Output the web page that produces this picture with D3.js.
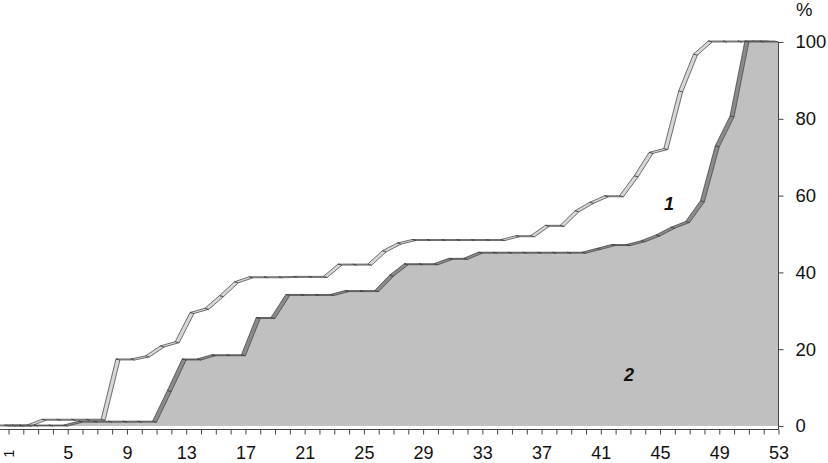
<!DOCTYPE html>
<html>
<head>
<meta charset="utf-8">
<script src="https://cdn.jsdelivr.net/npm/d3@7"></script>
<style>
    body{margin:0;background:#fff;}
    text{font-family:"Liberation Sans",Arial,sans-serif;}
</style>
</head>
<body>
<div id="chart"></div>
<script>
// categories 1..53 on the x axis
const categories = [1,2,3,4,5,6,7,8,9,10,11,12,13,14,15,16,17,18,19,20,21,22,23,24,25,26,27,
    28,29,30,31,32,33,34,35,36,37,38,39,40,41,42,43,44,45,46,47,48,49,50,51,52,53];
const tickLabels = [1,5,9,13,17,21,25,29,33,37,41,45,49,53];
const yTicks = [0,20,40,60,80,100];

// series 1 (back row, upper curve), %
const series1 = [0,0,0,1.5,1.5,1.5,1.5,1.5,17.2,17.2,18,20.6,21.7,29.3,30.4,33.7,37.3,38.6,38.6,38.6,
    38.7,38.7,38.7,41.9,41.9,41.9,45.4,47.4,48.3,48.3,48.3,48.3,48.3,48.3,48.3,
    49.3,49.3,52,52,55.8,58,59.7,59.7,64.9,71,72,87,96.6,100,100,100,100,100];
// series 2 (front row, grey area), %
const series2 = [0,0,0,0,0,1,1,1,1,1,1,9,17.2,17.2,18.3,18.3,18.3,28,28,34,34,34,34,35,35,35,
    39,42,42,42,43.4,43.4,45,45,45,45,45,45,45,45,
    46,47,47,48,49.5,51.5,53,58.4,72.7,80.5,100,100,100];

const seriesLabels = [
    {text:"1", cat:45.6, value:58},
    {text:"2", cat:42.9, value:13.3}
];

const width = 828, height = 463;
const ribbon = {dx:-4, dy:-1};     // top face offset of the 3D area
const rowDepth = -7;               // back row shift

const svg = d3.select("#chart").append("svg")
    .attr("width",width)
    .attr("height",height)
;

const xScale = d3.scalePoint().domain(categories).range([8.5,778.5]);
const yScale = d3.scaleLinear().domain([0,100]).range([426,42]);
const xCat = d3.scaleLinear().domain([1,53]).range([8.5,778.5]);

function drawSeries(values, shift, faceFill, ribbonFill){
    const g = svg.append("g")
        .attr("transform","translate(" + shift + ",0)")
    ;
    const pts = values.map((v,i)=>[xScale(categories[i]), yScale(v)]);

    // front face
    const area = d3.area()
        .x(d=>d[0])
        .y0(yScale(0))
        .y1(d=>d[1])
    ;
    g.append("path")
        .attr("d",area(pts))
        .attr("fill",faceFill)
        .attr("stroke","none")
    ;

    // top face, one quad per segment
    const segs = d3.pairs(pts);
    g.selectAll(".ribbonSeg")
        .data(segs)
        .join("path")
        .attr("class","ribbonSeg")
        .attr("d",([a,b])=>{
            return "M" + a[0] + "," + a[1]
                + "L" + b[0] + "," + b[1]
                + "L" + (b[0]+ribbon.dx) + "," + (b[1]+ribbon.dy)
                + "L" + (a[0]+ribbon.dx) + "," + (a[1]+ribbon.dy) + "Z";
        })
        .attr("fill",ribbonFill)
        .attr("stroke","#3a3a3a")
        .attr("stroke-width",0.7)
        .attr("stroke-linejoin","round")
    ;
}

drawSeries(series1, rowDepth, "#ffffff", "#d6d6d6");
drawSeries(series2, 0, "#c0c0c0", "#8a8a8a");

// x axis
const xAxisG = svg.append("g")
    .attr("class","xAxisG")
    .attr("transform","translate(0,429.5)")
    .call(d3.axisBottom(xScale)
        .tickSize(5)
        .tickSizeOuter(0)
        .tickPadding(12)
        .tickFormat(d=>tickLabels.includes(d) ? d : ""))
;
xAxisG.select(".domain").attr("stroke","#444").attr("d","M0,0H778.5");
xAxisG.selectAll(".tick line").attr("stroke","#444");
xAxisG.selectAll("text")
    .attr("font-size",18)
    .attr("fill","#111")
;
// first label is drawn turned in the original
xAxisG.selectAll(".tick").filter(d=>d===1).select("text")
    .attr("transform","rotate(-90)")
    .attr("dy","0.35em")
    .attr("text-anchor","middle")
    .attr("x",-24)
    .attr("y",0)
    .attr("font-size",14)
;

// y axis on the right
const yAxisG = svg.append("g")
    .attr("class","yAxisG")
    .attr("transform","translate(778.5,0)")
    .call(d3.axisRight(yScale)
        .tickValues(yTicks)
        .tickSize(5)
        .tickSizeOuter(0)
        .tickPadding(12))
;
yAxisG.select(".domain").attr("stroke","#444").attr("d","M0,42V429.5");
yAxisG.selectAll(".tick line").attr("stroke","#444");
yAxisG.selectAll("text")
    .attr("font-size",18.5)
    .attr("fill","#111")
;

svg.append("text")
    .attr("x",796)
    .attr("y",16)
    .attr("font-size",18.5)
    .attr("fill","#111")
    .text("%")
;

svg.selectAll(".seriesLabel")
    .data(seriesLabels)
    .join("text")
    .attr("class","seriesLabel")
    .attr("x",d=>xCat(d.cat))
    .attr("y",d=>yScale(d.value))
    .attr("text-anchor","middle")
    .attr("dy","0.35em")
    .attr("font-size",18)
    .attr("font-weight","bold")
    .attr("font-style","italic")
    .attr("fill","#111")
    .text(d=>d.text)
;
</script>
</body>
</html>
